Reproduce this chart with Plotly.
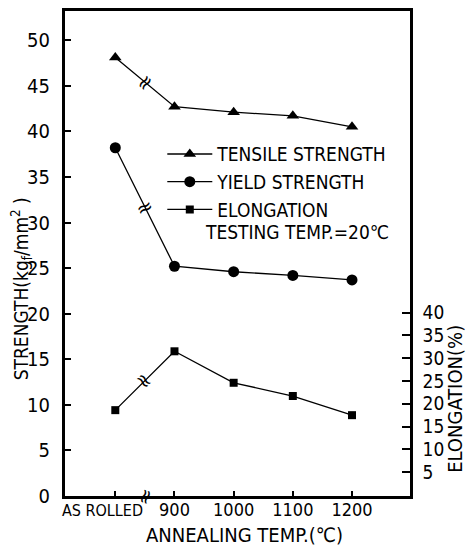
import plotly.graph_objects as go

categories = ["AS ROLLED", "900", "1000", "1100", "1200"]
tick_labels = ["<span style='font-size:16px'>AS ROLLED</span>\u00a0\u00a0\u00a0\u00a0\u00a0",
               "900", "1000", "1100", "1200"]
tensile = [48.1, 42.7, 42.1, 41.7, 40.5]
yield_s = [38.2, 25.2, 24.6, 24.2, 23.7]
elongation = [18.6, 31.5, 24.6, 21.7, 17.5]
left_ticks = [0, 5, 10, 15, 20, 25, 30, 35, 40, 45, 50]
right_ticks = [5, 10, 15, 20, 25, 30, 35, 40]

FONT = "Liberation Sans Narrow, DejaVu Sans Condensed, Arial Narrow, sans-serif"
line = dict(color="black", width=1.3)

fig = go.Figure()
fig.add_trace(go.Scatter(x=categories, y=tensile, mode="lines+markers", name="TENSILE STRENGTH",
                         line=line, marker=dict(symbol="triangle-up", size=11, color="black")))
fig.add_trace(go.Scatter(x=categories, y=yield_s, mode="lines+markers", name="YIELD STRENGTH",
                         line=line, marker=dict(symbol="circle", size=11, color="black")))
fig.add_trace(go.Scatter(x=categories, y=elongation, mode="lines+markers", name="ELONGATION",
                         line=line, marker=dict(symbol="square", size=8, color="black"), yaxis="y2"))

# break marks between AS ROLLED and 900
brk_font = dict(family="DejaVu Sans", size=20, color="black")
mid = 0.5
fig.add_annotation(x=mid, y=(tensile[0] + tensile[1]) / 2, text="≈", showarrow=False, textangle=-50, font=brk_font)
fig.add_annotation(x=mid, y=(yield_s[0] + yield_s[1]) / 2, text="≈", showarrow=False, textangle=-26, font=brk_font)
fig.add_annotation(x=mid, y=(elongation[0] + elongation[1]) / 2, yref="y2", text="≈", showarrow=False, textangle=45, font=brk_font)
fig.add_annotation(x=mid, y=0, text="≈", showarrow=False, textangle=-70, font=brk_font)

fig.add_annotation(xref="paper", yref="paper", x=0.40, y=0.545, xanchor="left", yanchor="middle",
                   text="TESTING TEMP.=20℃", showarrow=False, font=dict(family=FONT, size=19, color="black"))
fig.add_annotation(xref="paper", yref="paper", x=-0.125, y=0.428, xanchor="center", yanchor="middle",
                   text="STRENGTH(kg<sub>f</sub>/mm<sup>2</sup> )",
                   textangle=-90, showarrow=False, font=dict(family=FONT, size=19, color="black"))
fig.add_annotation(xref="paper", yref="paper", x=1.13, y=0.2, xanchor="center", yanchor="middle",
                   text="ELONGATION(%)",
                   textangle=-90, showarrow=False, font=dict(family=FONT, size=20, color="black"))
fig.add_annotation(xref="paper", yref="paper", x=0.52, y=-0.08, xanchor="center", yanchor="middle",
                   text="ANNEALING TEMP.(℃)",
                   showarrow=False, font=dict(family=FONT, size=20, color="black"))

axis_common = dict(showgrid=False, zeroline=False, linecolor="black", ticks="inside", automargin=False,
                   tickcolor="black")

fig.update_layout(
    width=467, height=548,
    margin=dict(l=65, r=57, t=11, b=52),
    plot_bgcolor="white", paper_bgcolor="white",
    showlegend=True,
    legend=dict(x=0.282, y=0.744, xanchor="left", yanchor="top", bgcolor="rgba(0,0,0,0)",
                font=dict(family=FONT, size=19, color="black"), itemwidth=45, tracegroupgap=0),
    xaxis=dict(**axis_common, type="category", range=[-0.85, 4.98], tickvals=categories, ticktext=tick_labels,
               tickfont=dict(family=FONT, size=18, color="black"), ticklabelstandoff=-5,
               tickangle=0, linewidth=3, mirror=True, ticklen=5, tickwidth=1.5),
    yaxis=dict(**axis_common, range=[0, 53.2], tickvals=left_ticks, linewidth=3, mirror=True,
               tickfont=dict(family=FONT, size=20, color="black"),
               ticklen=6, tickwidth=1.5, ticklabelstandoff=8),
    yaxis2=dict(**axis_common, overlaying="y", side="right", range=[-0.22, 106.1], tickvals=right_ticks,
                tickfont=dict(family=FONT, size=19, color="black"),
                linewidth=2.5, ticklen=8, tickwidth=1.5, ticklabelstandoff=6),
)

fig.write_html("out.html", config={"displayModeBar": False},
               post_script="document.body.style.margin='0';document.body.style.overflow='hidden';")
